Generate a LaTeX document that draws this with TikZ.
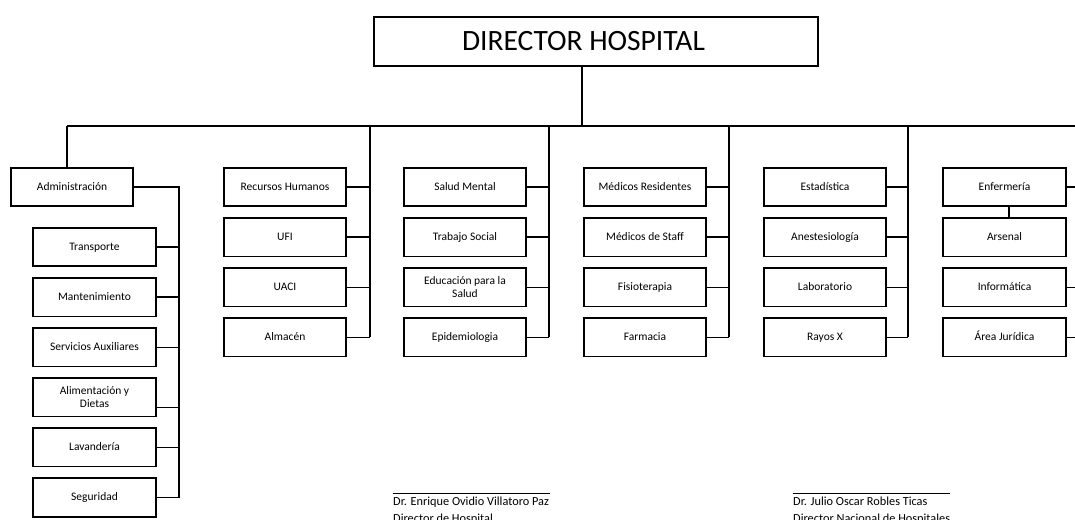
\documentclass[tikz,border=0pt]{standalone}
\usepackage{fontspec}
\setmainfont{Carlito}
\usetikzlibrary{positioning}

\begin{document}
\begin{tikzpicture}[x=1pt, y=-1pt, unit/.style={draw, line width=1.6pt, minimum width=122.5pt, minimum height=38.5pt, inner sep=0pt, align=center, text height=8.5pt, text depth=2.5pt, font=\fontsize{11.5}{13}\selectfont}, twoline/.style={text height=, text depth=}, link/.style={line width=1.4pt}, sign/.style={anchor=north west, align=left, inner sep=0pt, font=\fontsize{12.3}{17}\selectfont}]
	\useasboundingbox (0,0) rectangle (1075,519);
	\clip (0,0) rectangle (1075,519);
	\node[unit, minimum width=444.5pt, minimum height=49.5pt, text height=20pt, text depth=1pt, font=\fontsize{29.5}{31}\selectfont] (dir) at (596,41.5) {DIRECTOR HOSPITAL\hspace*{25pt}};
	\coordinate (bus) at (582,126);
	\coordinate (s0) at (67,126);
	\coordinate (s1) at (370,126);
	\coordinate (s2) at (549,126);
	\coordinate (s3) at (729,126);
	\coordinate (s4) at (908,126);
	\coordinate (s5) at (1078,126);
	\draw[link] (dir.south -| bus) -- (bus);
	\draw[link] (s0) -- (s5);
	% administracion
	\node[unit] (adm) at (72,187) {Administración};
	\node[unit] (tra) at (94.5,247) {Transporte};
	\node[unit, below=10pt of tra] (man) {Mantenimiento};
	\node[unit, below=10pt of man] (ser) {Servicios Auxiliares};
	\node[unit, twoline, below=10pt of ser] (ali) {Alimentación y\\Dietas};
	\node[unit, below=10pt of ali] (lav) {Lavandería};
	\node[unit, below=10pt of lav] (seg) {Seguridad};
	\coordinate (sa) at (179,187);
	\draw[link] (s0) -- (s0 |- adm.north);
	\draw[link] (adm.east) -- (sa) -- (sa |- seg.east);
	\foreach \n in {tra,man,ser,lav,seg}
		\draw[link] (\n.east) -- (\n.east -| sa);
	\draw[link] ([yshift=-10pt]ali.east) -- ([yshift=-10pt]ali.east -| sa);
	% columnas
	\node[unit] (rh) at (285,187) {Recursos Humanos};
	\node[unit, below=10pt of rh] (ufi) {UFI};
	\node[unit, below=10pt of ufi] (uaci) {UACI};
	\node[unit, below=10pt of uaci] (alm) {Almacén};
	\node[unit] (sm) at (465,187) {Salud Mental};
	\node[unit, below=10pt of sm] (ts) {Trabajo Social};
	\node[unit, twoline, below=10pt of ts] (eps) {Educación para la\\Salud};
	\node[unit, below=10pt of eps] (epi) {Epidemiologia};
	\node[unit] (mr) at (645,187) {Médicos Residentes};
	\node[unit, below=10pt of mr] (ms) {Médicos de Staff};
	\node[unit, below=10pt of ms] (fis) {Fisioterapia};
	\node[unit, below=10pt of fis] (far) {Farmacia};
	\node[unit] (est) at (825,187) {Estadística};
	\node[unit, below=10pt of est] (ane) {Anestesiología};
	\node[unit, below=10pt of ane] (lab) {Laboratorio};
	\node[unit, below=10pt of lab] (rx) {Rayos X};
	\node[unit] (enf) at (1004.5,187) {Enfermería};
	\node[unit, below=10pt of enf] (ars) {Arsenal};
	\node[unit, below=10pt of ars] (inf) {Informática};
	\node[unit, below=10pt of inf] (aj) {Área Jurídica};
	\draw[link] (s1) -- (s1 |- alm.east);
	\draw[link] (s2) -- (s2 |- epi.east);
	\draw[link] (s3) -- (s3 |- far.east);
	\draw[link] (s4) -- (s4 |- rx.east);
	\draw[link] (s5) -- (s5 |- aj.east);
	\foreach \n in {rh,ufi,uaci,alm}
		\draw[link] (\n.east) -- (\n.east -| s1);
	\foreach \n in {sm,ts,eps,epi}
		\draw[link] (\n.east) -- (\n.east -| s2);
	\foreach \n in {mr,ms,fis,far}
		\draw[link] (\n.east) -- (\n.east -| s3);
	\foreach \n in {est,ane,lab,rx}
		\draw[link] (\n.east) -- (\n.east -| s4);
	\foreach \n in {enf,inf,aj}
		\draw[link] (\n.east) -- (\n.east -| s5);
	\draw[link] ([xshift=4.5pt]enf.south) -- ([xshift=4.5pt]ars.north);
	% firmas
	\node[sign] (sig1) at (393,497) {Dr. Enrique Ovidio Villatoro Paz\\Director de Hospital};
	\node[sign] (sig2) at (793,497) {Dr. Julio Oscar Robles Ticas\\Director Nacional de Hospitales};
	\draw[line width=0.8pt] ([yshift=4pt]sig1.north west) -- ++(157,0);
	\draw[line width=0.8pt] ([yshift=4pt]sig2.north west) -- ++(157,0);
\end{tikzpicture}
\end{document}
